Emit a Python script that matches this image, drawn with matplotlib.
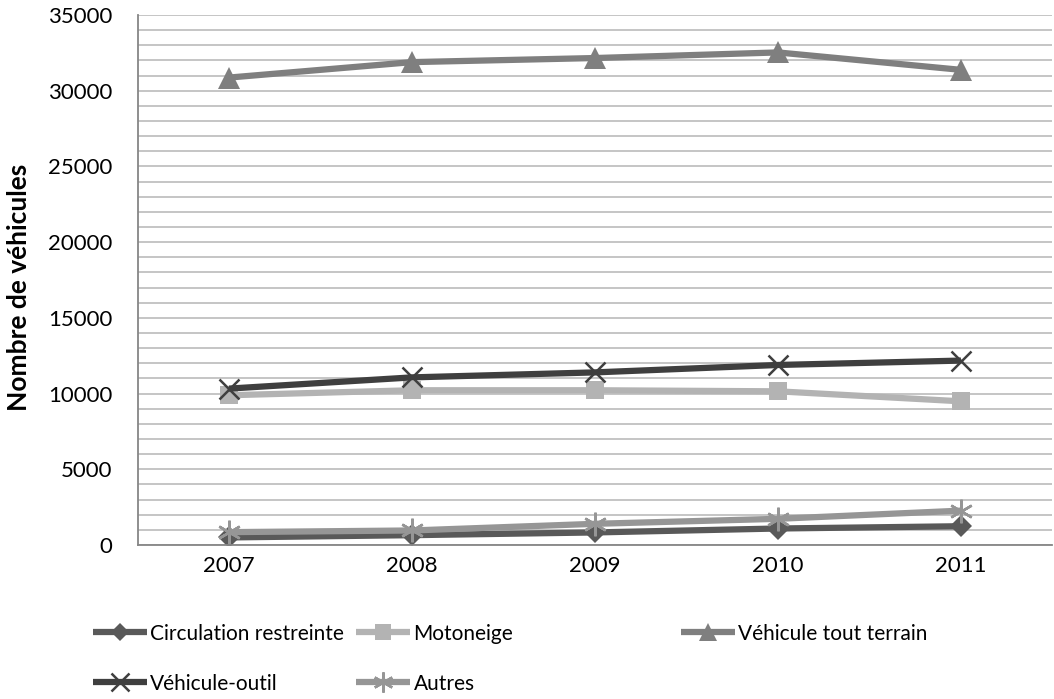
import matplotlib
matplotlib.use("Agg")
import matplotlib.pyplot as plt

years = ["2007", "2008", "2009", "2010", "2011"]
circulation_restreinte = [500, 650, 830, 1090, 1240]
motoneige = [9890, 10220, 10220, 10150, 9490]
vehicule_tout_terrain = [30870, 31890, 32160, 32530, 31380]
vehicule_outil = [10330, 11070, 11400, 11890, 12180]
autres = [850, 960, 1400, 1730, 2270]

series_names = ["Circulation restreinte", "Motoneige", "Véhicule tout terrain",
                "Véhicule-outil", "Autres"]
series = [circulation_restreinte, motoneige, vehicule_tout_terrain, vehicule_outil, autres]
colors = ["#595959", "#B3B3B3", "#7F7F7F", "#3F3F3F", "#969696"]
markers = ["D", "s", "^", "x", (6, 2, 0)]
msizes = [11, 13, 16, 15, 17]

plt.rcParams['font.family'] = ['Lato', 'DejaVu Sans']

fig = plt.figure(figsize=(10.54, 6.99), dpi=100)
ax = fig.add_axes([0.1305, 0.2203, 0.868, 0.7582])

x = list(range(len(years)))
handles = []
for name, vals, c, m, ms in zip(series_names, series, colors, markers, msizes):
    if m in ("x", (6, 2, 0)):
        ln, = ax.plot(x, vals, color=c, lw=4.5, marker=m, markersize=ms,
                      markeredgewidth=1.8, markeredgecolor=c, solid_capstyle='butt')
    else:
        ln, = ax.plot(x, vals, color=c, lw=4.5, marker=m, markersize=ms,
                      markeredgewidth=0, markerfacecolor=c, solid_capstyle='butt')
    handles.append(ln)

ax.set_xlim(-0.5, 4.5)
ax.set_ylim(0, 35000)
ax.set_xticks(x)
ax.set_xticklabels(years)
ax.set_yticks(range(0, 35001, 5000))
ax.set_yticks(range(0, 35001, 1000), minor=True)
ax.grid(True, which='both', axis='y', color='#C0C0C0', lw=1.3)
ax.set_axisbelow(True)
ax.tick_params(axis='both', which='both', length=0, labelsize=16, colors='black')
ax.tick_params(axis='x', pad=8)
ax.tick_params(axis='y', pad=18)
for s in ['top', 'right']:
    ax.spines[s].set_visible(False)
for s in ['left', 'bottom']:
    ax.spines[s].set_color('#868686')
    ax.spines[s].set_linewidth(1.3)

fig.text(0.018, 0.5886, "Nombre de véhicules", rotation=90, ha='center', va='center',
         fontsize=19, fontweight='bold')

legfont = {'family': ['Lato', 'DejaVu Sans'], 'size': 15}
cols = [(0.088, [0, 3]), (0.338, [1, 4]), (0.646, [2])]
for xpos, idx in cols:
    fig.legend([handles[i] for i in idx], [series_names[i] for i in idx],
               loc='upper left', bbox_to_anchor=(xpos, 0.108), frameon=False,
               prop=legfont, handlelength=2.6, handletextpad=0.15,
               labelspacing=1.45, borderaxespad=0, borderpad=0, markerscale=0.85)

fig.savefig("out.png", dpi=100)
